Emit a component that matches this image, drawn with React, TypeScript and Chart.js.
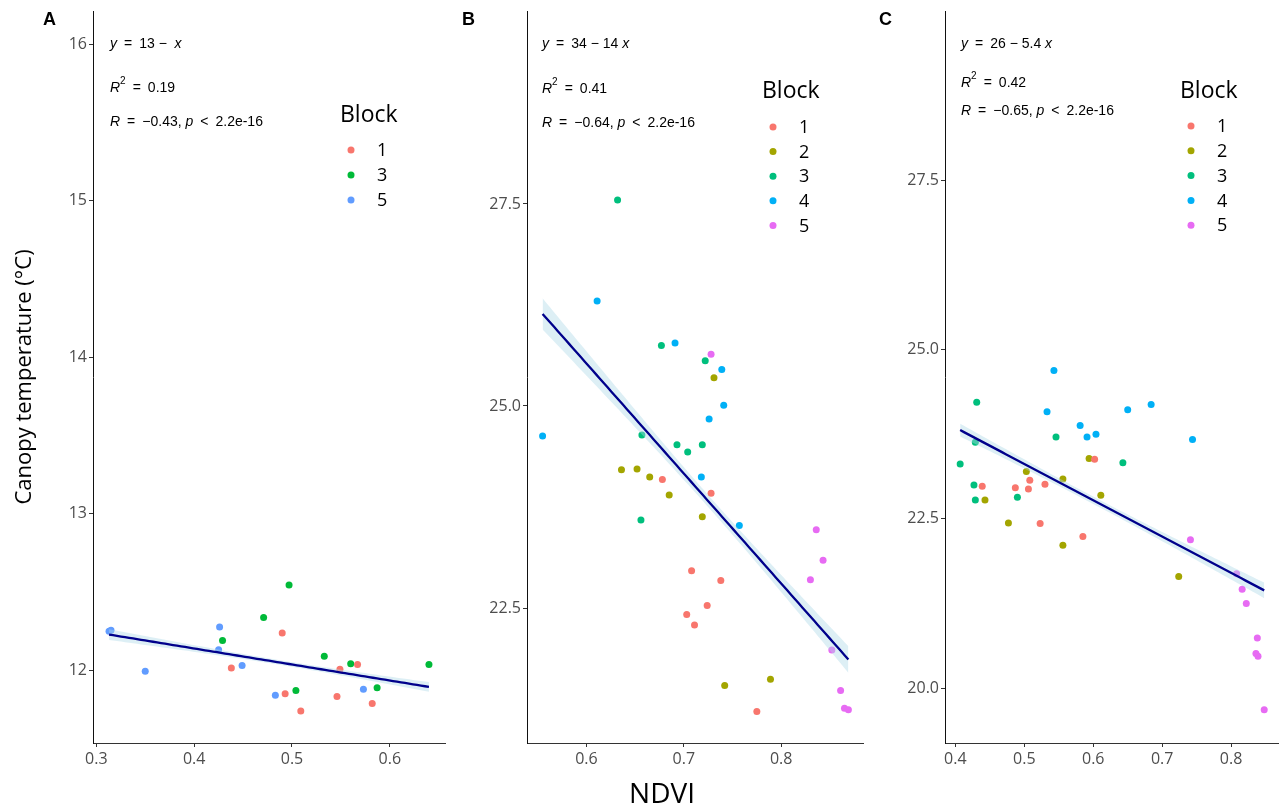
import React, { useEffect, useRef } from "react";
import { Chart, registerables } from "chart.js";

Chart.register(...registerables);

// ---------- colours (ggplot2 default hues) ----------
const COLORS_3 = ["#F8766D", "#00BA38", "#619CFF"];
const COLORS_5 = ["#F8766D", "#A3A500", "#00BF7D", "#00B0F6", "#E76BF3"];

// ---------- Panel A data ----------
const blocksA = ["1", "3", "5"];
const ndviA1 = [0.438, 0.49, 0.493, 0.509, 0.549, 0.567, 0.546, 0.582];
const tempA1 = [12.013, 12.238, 11.849, 11.738, 12.006, 12.036, 11.832, 11.787];
const ndviA3 = [0.429, 0.471, 0.497, 0.504, 0.533, 0.56, 0.587, 0.64];
const tempA3 = [12.19, 12.336, 12.544, 11.87, 12.089, 12.04, 11.887, 12.036];
const ndviA5 = [0.313, 0.315, 0.35, 0.426, 0.425, 0.449, 0.483, 0.573];
const tempA5 = [12.249, 12.255, 11.992, 12.276, 12.13, 12.03, 11.839, 11.877];
const xTicksA = [0.3, 0.4, 0.5, 0.6];
const yTicksA = [12, 13, 14, 15, 16];

// ---------- Panel B data ----------
const blocksB = ["1", "2", "3", "4", "5"];
const ndviB1 = [0.678, 0.728, 0.708, 0.738, 0.724, 0.703, 0.711, 0.775];
const tempB1 = [24.09, 23.92, 22.96, 22.84, 22.53, 22.42, 22.29, 21.22];
const ndviB2 = [0.731, 0.636, 0.652, 0.665, 0.685, 0.719, 0.789, 0.742];
const tempB2 = [25.35, 24.21, 24.22, 24.12, 23.9, 23.63, 21.62, 21.54];
const ndviB3 = [0.632, 0.677, 0.722, 0.657, 0.693, 0.704, 0.719, 0.656];
const tempB3 = [27.55, 25.75, 25.56, 24.64, 24.52, 24.43, 24.52, 23.59];
const ndviB4 = [0.611, 0.691, 0.739, 0.741, 0.726, 0.555, 0.718, 0.757];
const tempB4 = [26.3, 25.78, 25.45, 25.01, 24.84, 24.63, 24.12, 23.52];
const ndviB5 = [0.728, 0.836, 0.843, 0.83, 0.852, 0.861, 0.865, 0.869];
const tempB5 = [25.64, 23.47, 23.09, 22.85, 21.98, 21.48, 21.26, 21.24];
const xTicksB = [0.6, 0.7, 0.8];
const yTicksB = [22.5, 25, 27.5];

// ---------- Panel C data ----------
const blocksC = ["1", "2", "3", "4", "5"];
const ndviC1 = [0.602, 0.508, 0.439, 0.487, 0.506, 0.53, 0.523, 0.585];
const tempC1 = [23.38, 23.07, 22.98, 22.96, 22.94, 23.01, 22.43, 22.24];
const ndviC2 = [0.594, 0.503, 0.556, 0.443, 0.611, 0.477, 0.556, 0.724];
const tempC2 = [23.39, 23.2, 23.09, 22.78, 22.85, 22.44, 22.11, 21.65];
const ndviC3 = [0.431, 0.546, 0.429, 0.407, 0.643, 0.427, 0.429, 0.49];
const tempC3 = [24.22, 23.71, 23.63, 23.31, 23.33, 23.0, 22.78, 22.82];
const ndviC4 = [0.543, 0.533, 0.65, 0.684, 0.581, 0.604, 0.591, 0.744];
const tempC4 = [24.69, 24.08, 24.11, 24.19, 23.88, 23.75, 23.71, 23.67];
const ndviC5 = [0.741, 0.808, 0.816, 0.822, 0.838, 0.836, 0.839, 0.848];
const tempC5 = [22.19, 21.69, 21.46, 21.25, 20.74, 20.51, 20.47, 19.68];
const xTicksC = [0.4, 0.5, 0.6, 0.7, 0.8];
const yTicksC = [20, 22.5, 25, 27.5];

// The visible dots stand for repeated measurements (p < 2.2e-16 implies a
// large n), so the 95% band is computed with this many readings per dot.
const REPLICATES_PER_POINT = 25;

// ---------- annotation texts ----------
type Seg = { t: string; it?: boolean; sup?: boolean };
const SP = "\u2002";
const eqA: Seg[][] = [
  [{ t: "y", it: true }, { t: `${SP}=${SP}13 \u2212  ` }, { t: "x", it: true }],
  [{ t: "R", it: true }, { t: "2", sup: true }, { t: `${SP}=${SP}0.19` }],
  [{ t: "R", it: true }, { t: `${SP}=${SP}\u22120.43, ` }, { t: "p", it: true }, { t: `${SP}<${SP}2.2e-16` }],
];
const eqB: Seg[][] = [
  [{ t: "y", it: true }, { t: `${SP}=${SP}34 \u2212 14 ` }, { t: "x", it: true }],
  [{ t: "R", it: true }, { t: "2", sup: true }, { t: `${SP}=${SP}0.41` }],
  [{ t: "R", it: true }, { t: `${SP}=${SP}\u22120.64, ` }, { t: "p", it: true }, { t: `${SP}<${SP}2.2e-16` }],
];
const eqC: Seg[][] = [
  [{ t: "y", it: true }, { t: `${SP}=${SP}26 \u2212 5.4 ` }, { t: "x", it: true }],
  [{ t: "R", it: true }, { t: "2", sup: true }, { t: `${SP}=${SP}0.42` }],
  [{ t: "R", it: true }, { t: `${SP}=${SP}\u22120.65, ` }, { t: "p", it: true }, { t: `${SP}<${SP}2.2e-16` }],
];
const legendTitle = "Block";
const yAxisTitle = "Canopy temperature (\u00B0C)";
const xAxisTitle = "NDVI";

// ---------- layout ----------
const H = 812;
const AXIS_BOTTOM = 743;
const PLOT_TOP = 10;

interface Group { label: string; color: string; xs: number[]; ys: number[] }
interface PanelSpec {
  left: number; width: number; axisLeft: number; plotRight: number;
  xMin: number; xMax: number; yMin: number; yMax: number;
  xTicks: number[]; yTicks: number[]; yDec: number;
  groups: Group[];
  letter: string; letterX: number;
  eq: Seg[][]; eqX: number; eqBase: number[];
  legX: number; legTitleBase: number; legY0: number; legStep: number;
  yTitle?: boolean; xTitle?: boolean;
}

const specs: PanelSpec[] = [
  {
    left: 0, width: 450, axisLeft: 93, plotRight: 445,
    xMin: 0.2966, xMax: 0.6564, yMin: 11.534, yMax: 16.21,
    xTicks: xTicksA, yTicks: yTicksA, yDec: 0,
    groups: [
      { label: blocksA[0], color: COLORS_3[0], xs: ndviA1, ys: tempA1 },
      { label: blocksA[1], color: COLORS_3[1], xs: ndviA3, ys: tempA3 },
      { label: blocksA[2], color: COLORS_3[2], xs: ndviA5, ys: tempA5 },
    ],
    letter: "A", letterX: 43,
    eq: eqA, eqX: 110, eqBase: [48, 92, 126],
    legX: 340, legTitleBase: 122, legY0: 150, legStep: 25,
    yTitle: true,
  },
  {
    left: 450, width: 420, axisLeft: 527, plotRight: 863,
    xMin: 0.539, xMax: 0.884, yMin: 20.83, yMax: 29.88,
    xTicks: xTicksB, yTicks: yTicksB, yDec: 1,
    groups: blocksB.map((b, i) => ({
      label: b, color: COLORS_5[i],
      xs: [ndviB1, ndviB2, ndviB3, ndviB4, ndviB5][i],
      ys: [tempB1, tempB2, tempB3, tempB4, tempB5][i],
    })),
    letter: "B", letterX: 462,
    eq: eqB, eqX: 542, eqBase: [48, 93, 127],
    legX: 762, legTitleBase: 98, legY0: 127, legStep: 24.6,
    xTitle: true,
  },
  {
    left: 870, width: 412, axisLeft: 945, plotRight: 1280,
    xMin: 0.385, xMax: 0.868, yMin: 19.19, yMax: 29.99,
    xTicks: xTicksC, yTicks: yTicksC, yDec: 1,
    groups: blocksC.map((b, i) => ({
      label: b, color: COLORS_5[i],
      xs: [ndviC1, ndviC2, ndviC3, ndviC4, ndviC5][i],
      ys: [tempC1, tempC2, tempC3, tempC4, tempC5][i],
    })),
    letter: "C", letterX: 879,
    eq: eqC, eqX: 961, eqBase: [48, 87, 115],
    legX: 1180, legTitleBase: 98, legY0: 126, legStep: 24.8,
  },
];

// ---------- statistics ----------
function fitLm(xs: number[], ys: number[]) {
  const n = xs.length;
  const mx = xs.reduce((a, b) => a + b, 0) / n;
  const my = ys.reduce((a, b) => a + b, 0) / n;
  let sxx = 0, sxy = 0;
  for (let i = 0; i < n; i++) { sxx += (xs[i] - mx) ** 2; sxy += (xs[i] - mx) * (ys[i] - my); }
  const b = sxy / sxx;
  const a = my - b * mx;
  let sse = 0;
  for (let i = 0; i < n; i++) sse += (ys[i] - a - b * xs[i]) ** 2;
  return { n, mx, sxx, a, b, s2: sse / (n - 2) };
}
function tCrit(df: number) {
  const z = 1.959964;
  return z + (z ** 3 + z) / (4 * df) + (5 * z ** 5 + 16 * z ** 3 + 3 * z) / (96 * df * df);
}

const FONT_UI = '"Open Sans", "DejaVu Sans", sans-serif';
const FONT_EQ = '"Liberation Sans", Arial, sans-serif';

function drawRuns(ctx: CanvasRenderingContext2D, runs: Seg[], x: number, y: number, size: number) {
  let cx = x;
  for (const r of runs) {
    const fs = r.sup ? 10 : size;
    ctx.font = `${r.it ? "italic " : ""}${fs}px ${FONT_EQ}`;
    ctx.fillText(r.t, cx, r.sup ? y - 8 : y);
    cx += ctx.measureText(r.t).width;
  }
}

function makeChart(canvas: HTMLCanvasElement, spec: PanelSpec) {
  const allX = spec.groups.flatMap((g) => g.xs);
  const allY = spec.groups.flatMap((g) => g.ys);
  const fit = fitLm(allX, allY);
  const k = REPLICATES_PER_POINT;
  const nEff = fit.n * k;
  const sxxEff = fit.sxx * k;
  const t = tCrit(nEff - 2);
  const xlo = Math.min(...allX);
  const xhi = Math.max(...allX);
  const N = 80;
  const line: { x: number; y: number }[] = [];
  const up: { x: number; y: number }[] = [];
  const lo: { x: number; y: number }[] = [];
  for (let i = 0; i <= N; i++) {
    const x = xlo + ((xhi - xlo) * i) / N;
    const yh = fit.a + fit.b * x;
    const se = Math.sqrt(fit.s2 * (1 / nEff + (x - fit.mx) ** 2 / sxxEff));
    line.push({ x, y: yh });
    up.push({ x, y: yh + t * se });
    lo.push({ x, y: yh - t * se });
  }
  const L = spec.left;

  const decor = {
    id: "decor",
    afterDraw(chart: any) {
      const ctx: CanvasRenderingContext2D = chart.ctx;
      ctx.save();
      ctx.fillStyle = "#000";
      ctx.textAlign = "left";
      ctx.textBaseline = "alphabetic";
      ctx.font = `bold 18px ${FONT_EQ}`;
      ctx.fillText(spec.letter, spec.letterX - L, 25);
      spec.eq.forEach((runs, i) => drawRuns(ctx, runs, spec.eqX - L, spec.eqBase[i], 14));
      ctx.font = `23px ${FONT_UI}`;
      ctx.fillText(legendTitle, spec.legX - L, spec.legTitleBase);
      spec.groups.forEach((g, i) => {
        const cy = spec.legY0 + i * spec.legStep;
        ctx.beginPath();
        ctx.fillStyle = g.color;
        ctx.arc(spec.legX + 11 - L, cy, 3.5, 0, Math.PI * 2);
        ctx.fill();
        ctx.fillStyle = "#000";
        ctx.font = `18px ${FONT_UI}`;
        ctx.textBaseline = "middle";
        ctx.fillText(g.label, spec.legX + 37 - L, cy + 1);
        ctx.textBaseline = "alphabetic";
      });
      if (spec.yTitle) {
        ctx.save();
        ctx.translate(31 - L, 377);
        ctx.rotate(-Math.PI / 2);
        ctx.textAlign = "center";
        ctx.font = `22px ${FONT_UI}`;
        ctx.fillText(yAxisTitle, 0, 0);
        ctx.restore();
      }
      if (spec.xTitle) {
        ctx.textAlign = "center";
        ctx.font = `28px ${FONT_UI}`;
        ctx.fillText(xAxisTitle, 662 - L, 803);
      }
      ctx.restore();
    },
  };

  const tickFont = { family: FONT_UI, size: 16 };
  return new Chart(canvas, {
    type: "scatter",
    data: {
      datasets: [
        {
          type: "line", data: line, borderColor: "#00008B", borderWidth: 2.3,
          pointRadius: 0, fill: false, order: 0, tension: 0,
        } as any,
        {
          type: "line", data: up, borderColor: "rgba(0,0,0,0)", borderWidth: 0,
          pointRadius: 0, backgroundColor: "rgba(173,216,230,0.42)", fill: "+1", order: 1,
        } as any,
        {
          type: "line", data: lo, borderColor: "rgba(0,0,0,0)", borderWidth: 0,
          pointRadius: 0, fill: false, order: 2,
        } as any,
        ...spec.groups.map((g) => ({
          type: "scatter",
          data: g.xs.map((x, j) => ({ x, y: g.ys[j] })),
          backgroundColor: g.color, borderWidth: 0, pointRadius: 3.5, order: 3,
        })),
      ],
    } as any,
    options: {
      responsive: false,
      animation: false,
      devicePixelRatio: 1,
      events: [],
      layout: { padding: { left: 0, top: PLOT_TOP, right: spec.left + spec.width - spec.plotRight, bottom: 0 } },
      plugins: {
        legend: { display: false },
        tooltip: { enabled: false },
        filler: { drawTime: "beforeDatasetDraw" },
      },
      scales: {
        x: {
          type: "linear", min: spec.xMin, max: spec.xMax,
          afterFit: (s: any) => { s.height = H - AXIS_BOTTOM; },
          afterBuildTicks: (s: any) => { s.ticks = spec.xTicks.map((v) => ({ value: v })); },
          ticks: {
            callback: (v: any) => Number(v).toFixed(1), color: "#4D4D4D", font: tickFont,
            padding: 3, maxRotation: 0, autoSkip: false,
          },
          grid: { display: true, drawOnChartArea: false, drawTicks: true, tickLength: 4, color: "#333" },
          border: { display: true, color: "#333", width: 1 },
        },
        y: {
          type: "linear", min: spec.yMin, max: spec.yMax,
          afterFit: (s: any) => { s.width = spec.axisLeft - spec.left; },
          afterBuildTicks: (s: any) => { s.ticks = spec.yTicks.map((v) => ({ value: v })); },
          ticks: {
            callback: (v: any) => Number(v).toFixed(spec.yDec), color: "#4D4D4D", font: tickFont,
            padding: 2, autoSkip: false,
          },
          grid: { display: true, drawOnChartArea: false, drawTicks: true, tickLength: 4, color: "#333" },
          border: { display: true, color: "#111", width: 1 },
        },
      },
    } as any,
    plugins: [decor],
  });
}

function Panel({ spec }: { spec: PanelSpec }) {
  const ref = useRef<HTMLCanvasElement | null>(null);
  useEffect(() => {
    if (!ref.current) return;
    const chart = makeChart(ref.current, spec);
    return () => chart.destroy();
  }, [spec]);
  return (
    <canvas
      ref={ref}
      width={spec.width}
      height={H}
      style={{ position: "absolute", left: spec.left, top: 0, width: spec.width, height: H }}
    />
  );
}

export default function App() {
  return (
    <div style={{ position: "absolute", left: 0, top: 0, width: 1282, height: H, background: "#fff", overflow: "hidden" }}>
      {specs.map((s) => (
        <Panel key={s.letter} spec={s} />
      ))}
    </div>
  );
}
